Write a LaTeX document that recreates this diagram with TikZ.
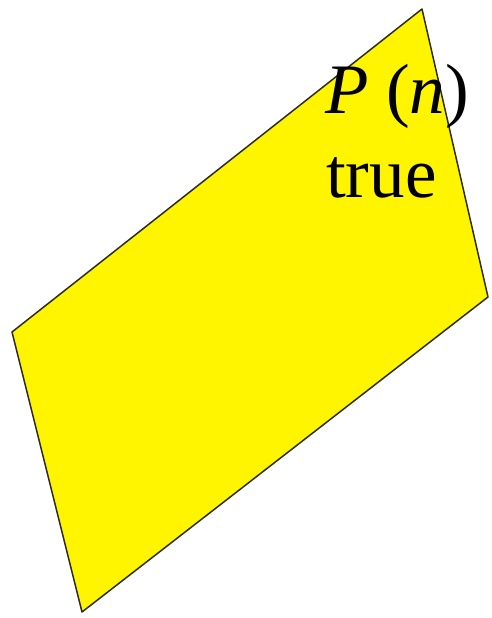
\documentclass[tikz,border=0pt]{standalone}
\usepackage{fontspec}
\setmainfont{Liberation Serif}
\definecolor{plane}{RGB}{255,245,0}
\definecolor{edge}{RGB}{45,45,25}
\tikzset{
  lbl/.style={anchor=base west, inner sep=0pt, font=\fontsize{71}{83}\selectfont, text=black}
}
\begin{document}
\begin{tikzpicture}[x=1pt,y=-1pt]
\useasboundingbox (0,0) rectangle (491,618);
\coordinate (top) at (422,9);
\coordinate (right) at (488,297);
\coordinate (bottom) at (82,612);
\coordinate (left) at (12,332);
\draw[edge, fill=plane, line width=1.5pt, line join=round] (top) -- (right) -- (bottom) -- (left) -- cycle;
\node[lbl] (pn) at (325,113) {\textit{P} (\textit{n})};
\node[lbl] (tr) at (326,197) {true};
\end{tikzpicture}
\end{document}
